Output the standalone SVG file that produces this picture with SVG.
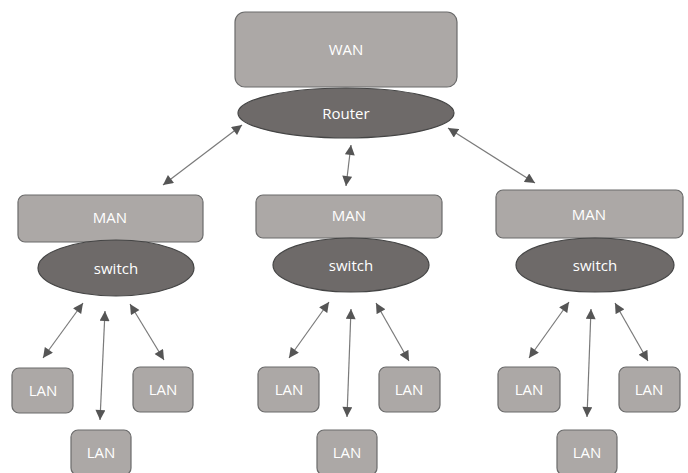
<svg xmlns="http://www.w3.org/2000/svg" width="688" height="473" viewBox="0 0 688 473">
<defs>
<marker id="ah" viewBox="0 0 10 10" refX="10" refY="5" markerWidth="11" markerHeight="10" markerUnits="userSpaceOnUse" orient="auto-start-reverse">
<path d="M0,0 L10,5 L0,10 Z" fill="#555"/>
</marker>
</defs>
<style>
.box{fill:#aca8a6;stroke:#6b6b6b;stroke-width:1.2}
.ell{fill:#6e6a69;stroke:#454545;stroke-width:1.2}
.t{font-family:"Open Sans","Liberation Sans",sans-serif;font-size:15px;fill:#fff;text-anchor:middle;dominant-baseline:central}
.c{stroke:#7a7a7a;stroke-width:1.2;fill:none;marker-start:url(#ah);marker-end:url(#ah)}
</style>
<rect width="688" height="473" fill="#fff"/>
<g id="connectors">
<line class="c" x1="242" y1="125" x2="163" y2="185"/>
<line class="c" x1="351" y1="145" x2="346" y2="186"/>
<line class="c" x1="448" y1="128" x2="535" y2="183"/>
<line class="c" x1="83" y1="303" x2="43" y2="358"/>
<line class="c" x1="105" y1="311" x2="100" y2="420"/>
<line class="c" x1="130" y1="304" x2="164" y2="360"/>
<line class="c" x1="329" y1="302" x2="289" y2="358"/>
<line class="c" x1="351" y1="309" x2="347" y2="417"/>
<line class="c" x1="376" y1="303" x2="409" y2="361"/>
<line class="c" x1="569" y1="302" x2="529" y2="358"/>
<line class="c" x1="591" y1="309" x2="587" y2="417"/>
<line class="c" x1="615" y1="303" x2="648" y2="361"/>
</g>
<g id="wan"><rect class="box" x="235" y="12" width="222" height="75" rx="10"/><text class="t" x="346" y="49">WAN</text></g>
<g id="router"><ellipse class="ell" cx="346" cy="113" rx="108" ry="25"/><text class="t" x="346" y="113">Router</text></g>
<g id="man1"><rect class="box" x="18" y="195" width="185" height="47" rx="7"/><text class="t" x="110" y="217">MAN</text></g>
<g id="switch1"><ellipse class="ell" cx="116" cy="268" rx="78" ry="28"/><text class="t" x="116" y="268">switch</text></g>
<g id="man2"><rect class="box" x="256" y="195" width="186" height="43" rx="7"/><text class="t" x="349" y="215">MAN</text></g>
<g id="switch2"><ellipse class="ell" cx="351" cy="265" rx="78" ry="27"/><text class="t" x="351" y="265">switch</text></g>
<g id="man3"><rect class="box" x="496" y="190" width="187" height="48" rx="7"/><text class="t" x="589" y="214">MAN</text></g>
<g id="switch3"><ellipse class="ell" cx="595" cy="265" rx="79" ry="27"/><text class="t" x="595" y="265">switch</text></g>
<g id="lan1a"><rect class="box" x="12" y="368" width="61" height="45" rx="7"/><text class="t" x="43" y="390">LAN</text></g>
<g id="lan1b"><rect class="box" x="71" y="430" width="60" height="45" rx="7"/><text class="t" x="101" y="452">LAN</text></g>
<g id="lan1c"><rect class="box" x="133" y="367" width="60" height="45" rx="7"/><text class="t" x="163" y="389">LAN</text></g>
<g id="lan2a"><rect class="box" x="258" y="367" width="61" height="45" rx="7"/><text class="t" x="289" y="389">LAN</text></g>
<g id="lan2b"><rect class="box" x="317" y="430" width="60" height="45" rx="7"/><text class="t" x="347" y="452">LAN</text></g>
<g id="lan2c"><rect class="box" x="379" y="367" width="61" height="45" rx="7"/><text class="t" x="409" y="389">LAN</text></g>
<g id="lan3a"><rect class="box" x="498" y="367" width="62" height="45" rx="7"/><text class="t" x="529" y="389">LAN</text></g>
<g id="lan3b"><rect class="box" x="557" y="430" width="60" height="45" rx="7"/><text class="t" x="587" y="452">LAN</text></g>
<g id="lan3c"><rect class="box" x="619" y="367" width="61" height="45" rx="7"/><text class="t" x="649" y="389">LAN</text></g>
</svg>
